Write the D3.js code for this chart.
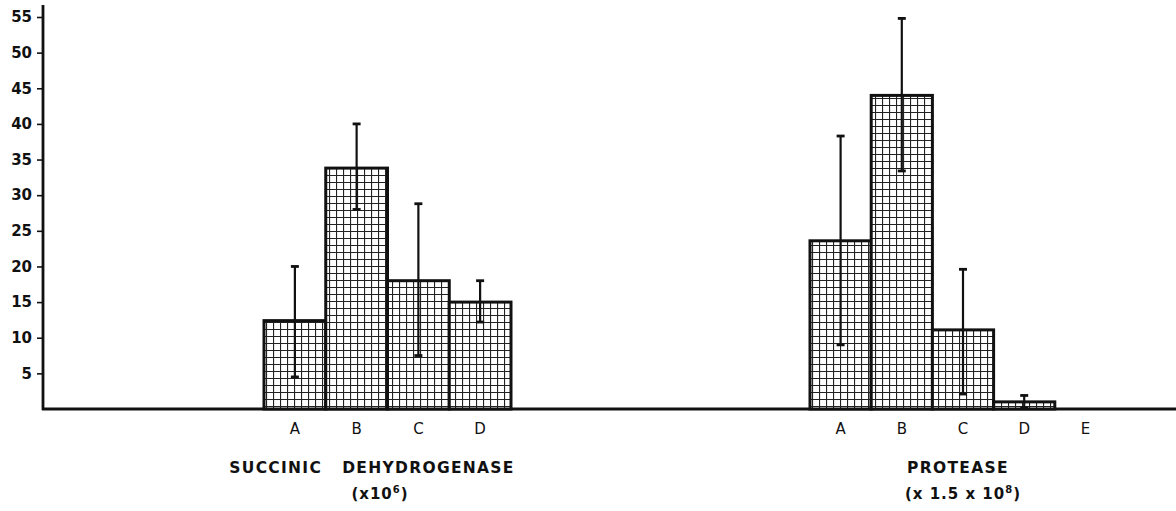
<!DOCTYPE html>
<html>
<head>
<meta charset="utf-8">
<script src="https://cdn.jsdelivr.net/npm/d3@7"></script>
<style>
	body { margin: 0; background: #fff; }
	text { font-family: "DejaVu Sans", sans-serif; fill: #111; }
</style>
</head>
<body>
<svg id="chart" width="1176" height="511"></svg>
<script>
// y axis ticks
var yTicks = [5, 10, 15, 20, 25, 30, 35, 40, 45, 50, 55];

// succinic dehydrogenase (x10^6)
var sdhCategories = ["A", "B", "C", "D"];
var sdhValues = [12.4, 33.8, 18.0, 15.0];
var sdhErrLow = [4.5, 28.0, 7.5, 12.2];
var sdhErrHigh = [20.0, 40.0, 28.8, 18.0];

// protease (x1.5 x 10^8)
var protCategories = ["A", "B", "C", "D", "E"];
var protValues = [23.6, 44.0, 11.1, 1.0, 0];
var protErrLow = [9.0, 33.4, 2.1, 0.2, null];
var protErrHigh = [38.3, 54.8, 19.6, 1.9, null];

var svg = d3.select("#chart");

var y = d3.scaleLinear().domain([0, 55]).range([409, 17]);

// grid hatch pattern for the bars
var pat = svg.append("defs").append("pattern")
	.attr("id", "grid")
	.attr("patternUnits", "userSpaceOnUse")
	.attr("width", 7).attr("height", 7);
pat.append("rect").attr("width", 7).attr("height", 7).attr("fill", "#fff");
pat.append("path").attr("d", "M0,0.5H7M0.5,0V7")
	.attr("stroke", "#222").attr("stroke-width", 1.2);

// y axis
var yAxis = svg.append("g")
	.attr("transform", "translate(43,0)")
	.call(d3.axisLeft(y).tickValues(yTicks).tickSize(6).tickSizeOuter(0).tickPadding(5));
yAxis.select(".domain").remove();
yAxis.selectAll(".tick line").attr("stroke", "#111").attr("stroke-width", 1.6);
yAxis.selectAll(".tick text").style("font-size", "15px").style("font-weight", "bold").attr("fill", "#111");

svg.append("line")
	.attr("x1", 43).attr("x2", 43)
	.attr("y1", y(0) + 1).attr("y2", y(56.7))
	.attr("stroke", "#111").attr("stroke-width", 2.8);
svg.append("line")
	.attr("x1", 42).attr("x2", 1176)
	.attr("y1", y(0)).attr("y2", y(0))
	.attr("stroke", "#111").attr("stroke-width", 2.8);

function drawGroup(cats, vals, lo, hi, x0, x1, title, sub, titleX, subX) {
	var x = d3.scaleBand().domain(cats).range([x0, x1]).padding(0);
	var g = svg.append("g");

	g.selectAll("rect.bar").data(cats).enter()
		.filter(function(d, i) { return vals[i] > 0; })
		.append("rect")
		.attr("class", "bar")
		.attr("x", function(d) { return x(d); })
		.attr("width", x.bandwidth())
		.attr("y", function(d) { return y(vals[cats.indexOf(d)]); })
		.attr("height", function(d) { return y(0) - y(vals[cats.indexOf(d)]); })
		.attr("fill", "url(#grid)")
		.attr("stroke", "#111")
		.attr("stroke-width", 3);

	// error bars
	cats.forEach(function(c, i) {
		if (lo[i] == null) return;
		var cx = x(c) + x.bandwidth() / 2;
		g.append("line")
			.attr("x1", cx).attr("x2", cx)
			.attr("y1", y(hi[i])).attr("y2", y(lo[i]))
			.attr("stroke", "#111").attr("stroke-width", 2.2);
		[hi[i], lo[i]].forEach(function(v) {
			g.append("line")
				.attr("x1", cx - 4).attr("x2", cx + 4)
				.attr("y1", y(v)).attr("y2", y(v))
				.attr("stroke", "#111").attr("stroke-width", 2.8);
		});
	});

	// category labels
	g.selectAll("text.cat").data(cats).enter().append("text")
		.attr("class", "cat")
		.attr("x", function(d) { return x(d) + x.bandwidth() / 2; })
		.attr("y", 434)
		.attr("text-anchor", "middle")
		.style("font-size", "15px")
		.text(function(d) { return d; });

	g.append("text")
		.attr("x", titleX).attr("y", 473)
		.attr("text-anchor", "middle")
		.attr("xml:space", "preserve")
		.style("font-size", "15.5px").style("font-weight", "bold")
		.style("letter-spacing", "1.3px")
		.text(title);
	var s = g.append("text")
		.attr("x", subX).attr("y", 499)
		.attr("text-anchor", "middle")
		.attr("xml:space", "preserve")
		.style("font-size", "15px").style("font-weight", "bold")
		.style("letter-spacing", "1px");
	s.append("tspan").text(sub[0]);
	s.append("tspan").attr("dy", -6).style("font-size", "10px").text(sub[1]);
	s.append("tspan").attr("dy", 6).text(")");
}

drawGroup(sdhCategories, sdhValues, sdhErrLow, sdhErrHigh, 264, 511,
	"SUCCINIC   DEHYDROGENASE", ["(x10", "6"], 372, 380);
drawGroup(protCategories, protValues, protErrLow, protErrHigh, 810, 1116,
	"PROTEASE", ["(x 1.5 x 10", "8"], 958, 963);
</script>
</body>
</html>
